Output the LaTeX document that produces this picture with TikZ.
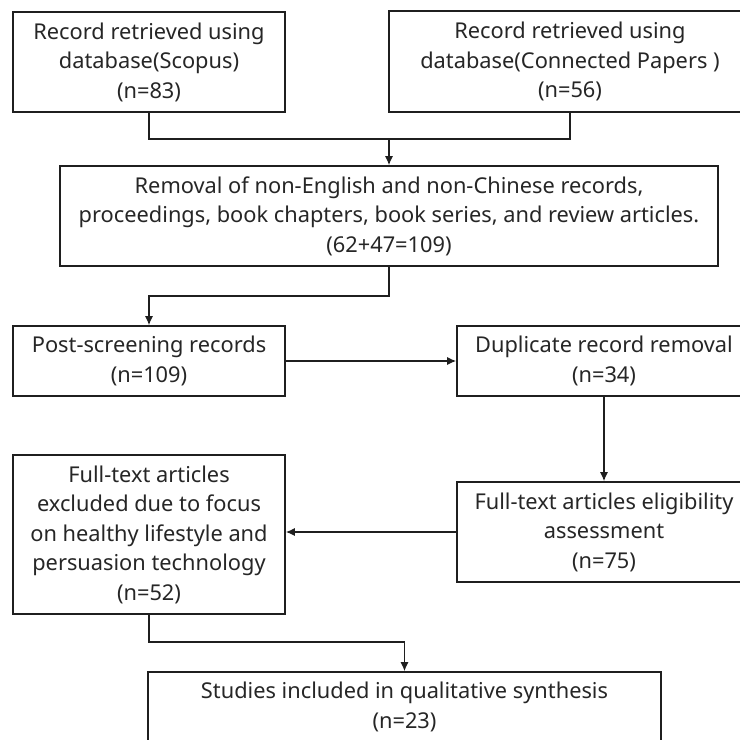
\documentclass[tikz,border=0pt]{standalone}
\usepackage{fontspec}
\setmainfont{Noto Sans}
\usetikzlibrary{arrows.meta}
\begin{document}
\begin{tikzpicture}[x=1pt,y=-1pt,
  box/.style={draw=black!88, line width=1.6pt, rectangle, inner sep=0pt, align=center,
    font=\fontsize{21.8}{29.5}\selectfont, text=black!85},
  conn/.style={draw=black!88, line width=1.3pt},
  arr/.style={conn, -{Latex[length=9pt,width=8pt]}}]
\useasboundingbox (0,0) rectangle (740,740);
\clip (0,0) rectangle (740,740);
\fill[white] (0,0) rectangle (740,740);
\node[box, minimum width=272pt, minimum height=100pt] (b1) at (149,62)
  {Record retrieved using\\database(Scopus)\\(n=83)};
\node[box, minimum width=362pt, minimum height=101pt] (b2) at (570,61.5)
  {Record retrieved using\\database(Connected Papers )\\(n=56)};
\node[box, minimum width=658pt, minimum height=100pt] (b3) at (389,216)
  {Removal of non-English and non-Chinese records,\\proceedings, book chapters, book series, and review articles.\\(62+47=109)};
\node[box, minimum width=272pt, minimum height=70pt] (b4) at (149,361)
  {Post-screening records\\(n=109)};
\node[box, minimum width=294pt, minimum height=70pt] (b5) at (604,361)
  {Duplicate record removal\\(n=34)};
\node[box, minimum width=294pt, minimum height=100pt] (b6) at (604,532)
  {Full-text articles eligibility\\assessment\\(n=75)};
\node[box, minimum width=272pt, minimum height=159pt] (b7) at (149,534.5)
  {Full-text articles\\excluded due to focus\\on healthy lifestyle and\\persuasion technology\\(n=52)};
\node[box, minimum width=513pt, minimum height=70pt] (b8) at (404.5,707)
  {Studies included in qualitative synthesis\\(n=23)};
\coordinate (j1) at (389,139);
\coordinate (j2) at (389,296);
\coordinate (j3) at (404.5,642);
\draw[conn] (b1.south) |- (j1) -| (b2.south);
\draw[arr] (j1) -- (b3.north);
\draw[arr] (b3.south) -- (j2) -| (b4.north);
\draw[arr] (b4.east) -- (b5.west);
\draw[arr] (b5.south) -- (b6.north);
\draw[arr] (b6.west) -- (b6.west -| b7.east);
\draw[arr] (b7.south) |- (j3) -- (b8.north);
\end{tikzpicture}
\end{document}
